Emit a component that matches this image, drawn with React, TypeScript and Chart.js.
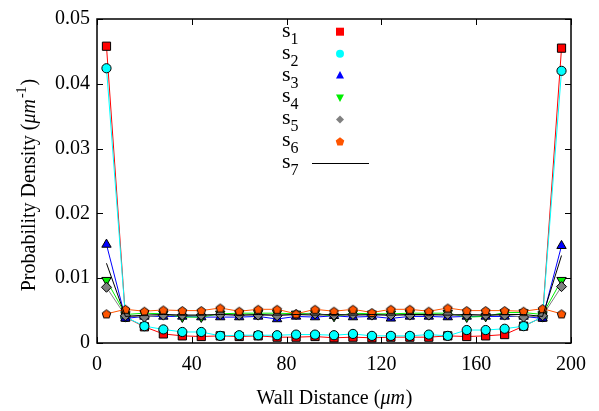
import React, { useEffect, useRef } from 'react';
import { Chart, registerables } from 'chart.js';

Chart.register(...registerables);

// ---------- data ----------
const distances = [4, 12, 20, 28, 36, 44, 52, 60, 68, 76, 84, 92, 100, 108, 116, 124, 132, 140, 148, 156, 164, 172, 180, 188, 196];

const s1 = [0.0458, 0.0040, 0.0025, 0.0014, 0.0011, 0.0010, 0.0011, 0.0010, 0.0011, 0.0009, 0.0009, 0.0010, 0.0008, 0.0009, 0.0008, 0.0009, 0.0009, 0.0009, 0.0011, 0.0010, 0.0011, 0.0013, 0.0026, 0.0040, 0.0455];
const s2 = [0.0424, 0.0040, 0.0026, 0.0021, 0.0017, 0.0017, 0.0011, 0.0012, 0.0012, 0.0012, 0.0013, 0.0013, 0.0012, 0.0014, 0.0011, 0.0011, 0.0011, 0.0013, 0.0011, 0.0020, 0.0020, 0.0022, 0.0026, 0.0040, 0.0420];
const s3 = [0.0152, 0.0038, 0.0041, 0.0041, 0.0041, 0.0040, 0.0040, 0.0040, 0.0041, 0.0037, 0.0041, 0.0040, 0.0042, 0.0040, 0.0041, 0.0038, 0.0041, 0.0041, 0.0040, 0.0041, 0.0041, 0.0041, 0.0041, 0.0038, 0.0150];
const s4 = [0.0097, 0.0044, 0.0046, 0.0045, 0.0040, 0.0040, 0.0045, 0.0046, 0.0046, 0.0046, 0.0045, 0.0046, 0.0041, 0.0046, 0.0045, 0.0045, 0.0046, 0.0046, 0.0046, 0.0040, 0.0041, 0.0047, 0.0047, 0.0044, 0.0097];
const s5 = [0.0086, 0.0042, 0.0040, 0.0043, 0.0043, 0.0043, 0.0044, 0.0043, 0.0043, 0.0042, 0.0044, 0.0045, 0.0043, 0.0044, 0.0043, 0.0043, 0.0043, 0.0043, 0.0044, 0.0043, 0.0043, 0.0043, 0.0040, 0.0042, 0.0087];
const s6 = [0.0045, 0.0052, 0.0049, 0.0051, 0.0050, 0.0050, 0.0054, 0.0049, 0.0052, 0.0052, 0.0045, 0.0052, 0.0049, 0.0052, 0.0047, 0.0052, 0.0052, 0.0049, 0.0054, 0.0050, 0.0050, 0.0050, 0.0049, 0.0053, 0.0045];
const s7 = [0.0123, 0.0041, 0.0043, 0.0044, 0.0043, 0.0043, 0.0044, 0.0043, 0.0044, 0.0043, 0.0044, 0.0043, 0.0044, 0.0043, 0.0044, 0.0043, 0.0044, 0.0044, 0.0043, 0.0044, 0.0043, 0.0044, 0.0044, 0.0041, 0.0135];

const seriesNames = ['1', '2', '3', '4', '5', '6', '7'];
const seriesColors = ['#ff0000', '#00ffff', '#0000ff', '#00ee00', '#808080', '#ff5500', '#000000'];
const xTicks = [0, 40, 80, 120, 160, 200];
const yTicks = [0, 0.01, 0.02, 0.03, 0.04, 0.05];
const xTitle = 'Wall Distance (';
const xTitleItalic = 'μm';
const yTitle = 'Probability Density (';
const yTitleItalic = 'μm';
const yTitleSup = '-1';

const FONT = '"Liberation Serif", "Times New Roman", serif';

function makePentagon(size: number, fill: string, stroke: string | null) {
  const c = document.createElement('canvas');
  c.width = size;
  c.height = size;
  const g = c.getContext('2d')!;
  const r = size / 2 - 1;
  g.beginPath();
  for (let i = 0; i < 5; i++) {
    const a = -Math.PI / 2 + (i * 2 * Math.PI) / 5;
    const px = size / 2 + r * Math.cos(a);
    const py = size / 2 + 0.5 + r * Math.sin(a);
    if (i === 0) g.moveTo(px, py);
    else g.lineTo(px, py);
  }
  g.closePath();
  g.fillStyle = fill;
  g.fill();
  if (stroke) {
    g.strokeStyle = stroke;
    g.lineWidth = 1;
    g.stroke();
  }
  return c;
}

function drawMarker(ctx: CanvasRenderingContext2D, kind: number, x: number, y: number, color: string) {
  ctx.save();
  ctx.fillStyle = color;
  ctx.beginPath();
  if (kind === 0) {
    ctx.rect(x - 4, y - 4, 8, 8);
  } else if (kind === 1) {
    ctx.arc(x, y, 4, 0, Math.PI * 2);
  } else if (kind === 2) {
    ctx.moveTo(x, y - 4.5);
    ctx.lineTo(x + 4, y + 3);
    ctx.lineTo(x - 4, y + 3);
  } else if (kind === 3) {
    ctx.moveTo(x, y + 4.5);
    ctx.lineTo(x + 4, y - 3);
    ctx.lineTo(x - 4, y - 3);
  } else if (kind === 4) {
    ctx.moveTo(x, y - 4);
    ctx.lineTo(x + 4, y);
    ctx.lineTo(x, y + 4);
    ctx.lineTo(x - 4, y);
  } else if (kind === 5) {
    for (let i = 0; i < 5; i++) {
      const a = -Math.PI / 2 + (i * 2 * Math.PI) / 5;
      const px = x + 4.5 * Math.cos(a);
      const py = y + 0.5 + 4.5 * Math.sin(a);
      if (i === 0) ctx.moveTo(px, py);
      else ctx.lineTo(px, py);
    }
  }
  ctx.closePath();
  ctx.fill();
  ctx.restore();
}

const decorPlugin = {
  id: 'decor',
  afterDraw(chart: any) {
    const { ctx, chartArea: a, scales } = chart;
    ctx.save();
    // frame
    ctx.strokeStyle = '#000';
    ctx.lineWidth = 1.5;
    ctx.strokeRect(a.left, a.top, a.right - a.left, a.bottom - a.top);
    // inward ticks
    ctx.lineWidth = 1;
    ctx.beginPath();
    xTicks.forEach((v) => {
      const px = Math.round(scales.x.getPixelForValue(v)) + 0.5;
      ctx.moveTo(px, a.bottom);
      ctx.lineTo(px, a.bottom - 6);
      ctx.moveTo(px, a.top);
      ctx.lineTo(px, a.top + 6);
    });
    yTicks.forEach((v) => {
      const py = Math.round(scales.y.getPixelForValue(v)) + 0.5;
      ctx.moveTo(a.left, py);
      ctx.lineTo(a.left + 6, py);
      ctx.moveTo(a.right, py);
      ctx.lineTo(a.right - 6, py);
    });
    ctx.stroke();

    ctx.fillStyle = '#000';
    ctx.textBaseline = 'alphabetic';
    ctx.textAlign = 'left';

    // x title
    const normal = `20px ${FONT}`;
    const italic = `italic 20px ${FONT}`;
    ctx.font = normal;
    const w1 = ctx.measureText(xTitle).width;
    const w3 = ctx.measureText(')').width;
    ctx.font = italic;
    const w2 = ctx.measureText(xTitleItalic).width;
    const cx = (a.left + a.right) / 2;
    let sx = cx - (w1 + w2 + w3) / 2;
    const by = 404;
    ctx.font = normal;
    ctx.fillText(xTitle, sx, by);
    ctx.font = italic;
    ctx.fillText(xTitleItalic, sx + w1, by);
    ctx.font = normal;
    ctx.fillText(')', sx + w1 + w2 + 1, by);

    // y title (rotated)
    ctx.save();
    ctx.translate(35, 185);
    ctx.rotate(-Math.PI / 2);
    const supFont = `14px ${FONT}`;
    ctx.font = normal;
    const yw1 = ctx.measureText(yTitle).width;
    const yw4 = ctx.measureText(')').width;
    ctx.font = italic;
    const yw2 = ctx.measureText(yTitleItalic).width;
    ctx.font = supFont;
    const yw3 = ctx.measureText(yTitleSup).width;
    const total = yw1 + yw2 + yw3 + yw4 + 2;
    let tx = -total / 2;
    ctx.font = normal;
    ctx.fillText(yTitle, tx, 0);
    tx += yw1;
    ctx.font = italic;
    ctx.fillText(yTitleItalic, tx, 0);
    tx += yw2 + 1;
    ctx.font = supFont;
    ctx.fillText(yTitleSup, tx, -9);
    tx += yw3 + 1;
    ctx.font = normal;
    ctx.fillText(')', tx, 0);
    ctx.restore();

    // legend
    const rowY0 = 31.7;
    const rowStep = 21.93;
    seriesNames.forEach((name, i) => {
      const ry = rowY0 + rowStep * i;
      ctx.font = `22px ${FONT}`;
      ctx.fillStyle = '#000';
      ctx.fillText('s', 282, ry + 5);
      const sw = ctx.measureText('s').width;
      ctx.font = `16px ${FONT}`;
      ctx.fillText(name, 282 + sw, ry + 12);
      if (i < 6) {
        drawMarker(ctx, i, 340, ry, seriesColors[i]);
      } else {
        ctx.strokeStyle = '#000';
        ctx.lineWidth = 1;
        ctx.beginPath();
        ctx.moveTo(312, Math.round(ry) + 0.5);
        ctx.lineTo(369, Math.round(ry) + 0.5);
        ctx.stroke();
      }
    });
    ctx.restore();
  },
};

export default function App() {
  const ref = useRef<HTMLCanvasElement | null>(null);

  useEffect(() => {
    if (!ref.current) return;
    const pentagon = makePentagon(11, '#ff5500', '#000');
    const all = [s1, s2, s3, s4, s5, s6, s7];
    const styles: any[] = ['rect', 'circle', 'triangle', 'triangle', 'rectRot', pentagon, 'circle'];
    const radii = [5.8, 4.6, 5.4, 5.4, 5, 5, 0];
    const rotations = [0, 0, 0, 180, 0, 0, 0];
    const datasets = all.map((vals, i) => ({
      label: 's' + seriesNames[i],
      data: distances.map((d, j) => ({ x: d, y: vals[j] })),
      borderColor: seriesColors[i],
      backgroundColor: seriesColors[i],
      borderWidth: 1,
      pointStyle: styles[i],
      pointRadius: radii[i],
      pointRotation: rotations[i],
      pointBorderColor: '#000',
      pointBorderWidth: 1,
      pointBackgroundColor: seriesColors[i],
      order: 7 - i,
      tension: 0,
    }));

    const chart = new Chart(ref.current, {
      type: 'line',
      data: { datasets },
      plugins: [decorPlugin],
      options: {
        animation: false,
        responsive: false,
        devicePixelRatio: 1,
        layout: { padding: { left: 0, right: 28, top: 15, bottom: 0 } },
        plugins: { legend: { display: false }, tooltip: { enabled: false } },
        scales: {
          x: {
            type: 'linear',
            min: 0,
            max: 200,
            afterFit: (s: any) => { s.height = 68; },
            afterBuildTicks: (s: any) => { s.ticks = xTicks.map((v) => ({ value: v })); },
            grid: { display: false, drawTicks: false },
            border: { display: false },
            ticks: { color: '#000', font: { family: FONT, size: 20 }, padding: 10, maxRotation: 0 },
          },
          y: {
            type: 'linear',
            min: 0,
            max: 0.05,
            afterFit: (s: any) => { s.width = 97; },
            afterBuildTicks: (s: any) => { s.ticks = yTicks.map((v) => ({ value: v })); },
            grid: { display: false, drawTicks: false },
            border: { display: false },
            ticks: {
              color: '#000',
              font: { family: FONT, size: 20 },
              padding: 7,
              callback: (v: any) => (Number(v) === 0 ? '0' : Number(v).toFixed(2)),
            },
          },
        },
      },
    } as any);
    return () => chart.destroy();
  }, []);

  return (
    <canvas
      ref={ref}
      width={599}
      height={411}
      style={{ position: 'fixed', left: 0, top: 0, width: 599, height: 411, background: '#fff' }}
    />
  );
}
